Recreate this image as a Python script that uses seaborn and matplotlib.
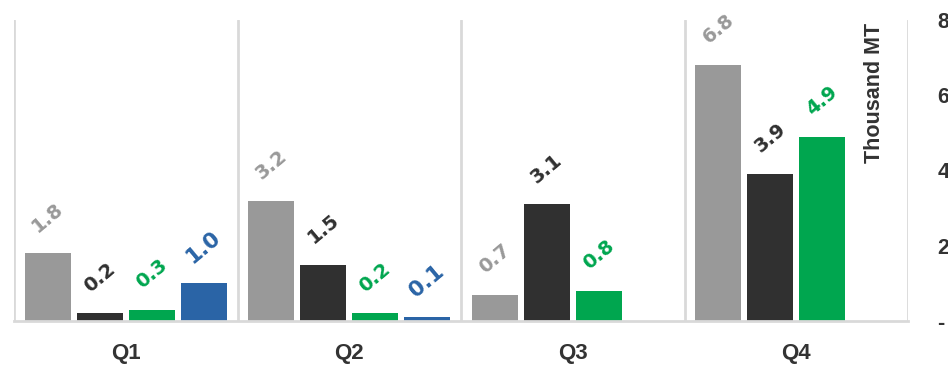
import matplotlib
matplotlib.use("Agg")
import matplotlib.pyplot as plt
import numpy as np
import pandas as pd
import seaborn as sns

quarters = ["Q1", "Q2", "Q3", "Q4"]
series_names = ["S1", "S2", "S3", "S4"]
s1_values = [1.8, 3.2, 0.7, 6.8]
s2_values = [0.2, 1.5, 3.1, 3.9]
s3_values = [0.3, 0.2, 0.8, 4.9]
s4_values = [1.0, 0.1, np.nan, np.nan]
y_ticks = [0, 2, 4, 6, 8]
y_tick_labels = ["-", "2", "4", "6", "8"]
unit_label = "Thousand MT"

colors = ["#999999", "#303030", "#00A64F", "#2A64A6"]
label_sizes = [14, 14, 14, 15.5]

rows = []
for name, vals in zip(series_names, [s1_values, s2_values, s3_values, s4_values]):
    for q, v in zip(quarters, vals):
        rows.append({"quarter": q, "series": name, "value": v})
df = pd.DataFrame(rows)

sns.set_theme(style="white")

fig = plt.figure(figsize=(9.48, 3.72), dpi=100)
ax = fig.add_axes([14 / 948, 1 - 321 / 372, (908 - 14) / 948, (321 - 20) / 372])

sns.barplot(data=df, x="quarter", y="value", hue="series", order=quarters,
            hue_order=series_names, palette=colors, width=0.93, gap=0.12,
            saturation=1, ax=ax, legend=False, edgecolor="none")

ax.set_xlim(-0.5, 3.5)
ax.set_ylim(0, 8)

# group separators
for xs in np.arange(-0.5, 4.0, 1.0):
    ax.axvline(xs, color="#D9D9D9", lw=2, zorder=0)
for s in ["top", "left", "right"]:
    ax.spines[s].set_visible(False)
ax.spines["bottom"].set_color("#D9D9D9")
ax.spines["bottom"].set_linewidth(2)

# value labels
for cont, col, fs in zip(ax.containers, colors, label_sizes):
    for bar in cont:
        h = bar.get_height()
        if np.isnan(h) or h <= 0:
            continue
        ax.annotate(f"{h:.1f}", (bar.get_x() + bar.get_width() / 2, h),
                    xytext=(0, 26), textcoords="offset points",
                    ha="center", va="center", rotation=40, rotation_mode="anchor",
                    color=col, fontsize=fs, fontweight="bold", family="DejaVu Sans")

ax.yaxis.tick_right()
ax.set_yticks(y_ticks)
ax.set_yticklabels(y_tick_labels)
ax.tick_params(axis="y", length=0, pad=21, labelsize=15.5, labelcolor="#333333")
ax.tick_params(axis="x", length=0, pad=16, labelsize=16, labelcolor="#333333")
for lab in ax.get_xticklabels() + ax.get_yticklabels():
    lab.set_fontweight("bold")
    lab.set_family("Liberation Sans")
ax.set_xlabel("")
ax.set_ylabel("")

ax.text(0.962, 0.99, unit_label, transform=ax.transAxes, rotation=90,
        ha="center", va="top", fontsize=15.5, fontweight="bold", color="#333333",
        family="Liberation Sans")

fig.savefig("out.png", dpi=100)
